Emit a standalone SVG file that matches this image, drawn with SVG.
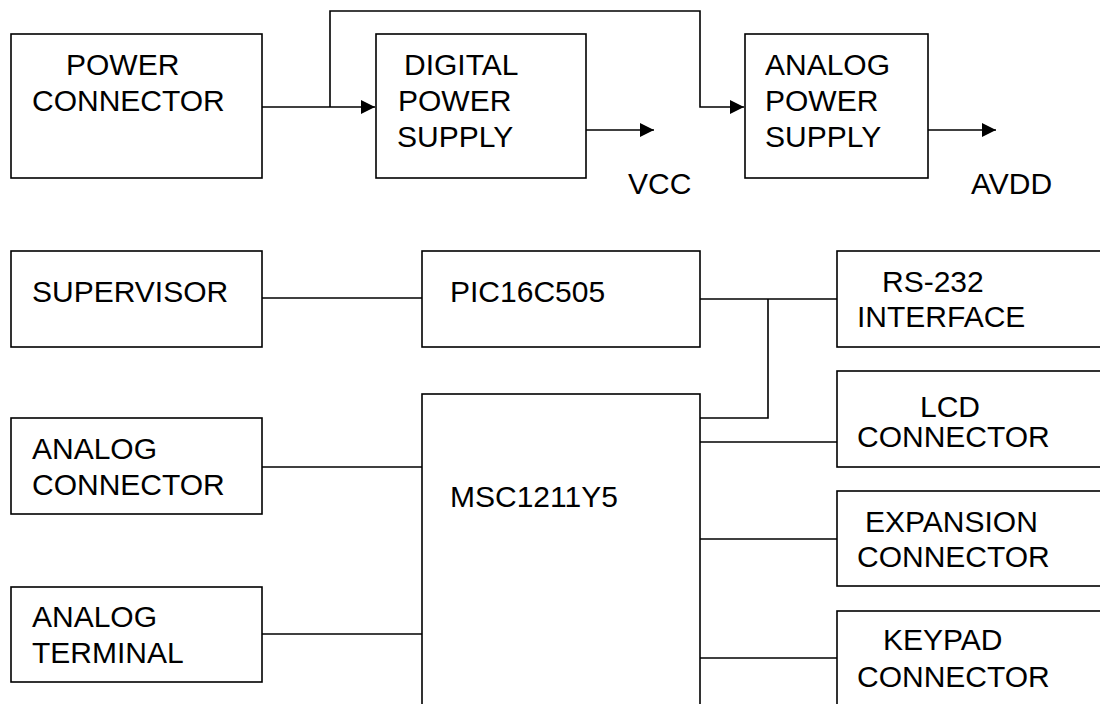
<svg xmlns="http://www.w3.org/2000/svg" width="1100" height="704" viewBox="0 0 1100 704">
<style>
.box{fill:#fff;stroke:#000;stroke-width:1.6}
.ln{fill:none;stroke:#000;stroke-width:1.6}
text{font-family:"Liberation Sans",Arial,sans-serif;font-size:30px;fill:#000}
</style>
<defs>
<marker id="ah" markerUnits="userSpaceOnUse" markerWidth="16" markerHeight="16" viewBox="0 0 16 16" refX="15" refY="8" orient="auto">
<path d="M1,1 L15,8 L1,15 Z" fill="#000"/>
</marker>
</defs>
<rect width="1100" height="704" fill="#fff"/>
<g id="connectors">
<path class="ln" d="M262,107 H375" marker-end="url(#ah)"/>
<path class="ln" d="M330,107 V11 H700 V107 H744" marker-end="url(#ah)"/>
<path class="ln" d="M586,130 H654" marker-end="url(#ah)"/>
<path class="ln" d="M928,130 H996" marker-end="url(#ah)"/>
<path class="ln" d="M262,298 H422"/>
<path class="ln" d="M700,299 H837"/>
<path class="ln" d="M768,299 V418 H700"/>
<path class="ln" d="M700,442 H837"/>
<path class="ln" d="M262,467 H422"/>
<path class="ln" d="M262,634 H422"/>
<path class="ln" d="M700,539 H837"/>
<path class="ln" d="M700,658 H837"/>
</g>
<g id="power-connector">
<rect class="box" x="11" y="34" width="251" height="144"/>
<text x="66" y="75">POWER</text>
<text x="32" y="111">CONNECTOR</text>
</g>
<g id="digital-power-supply">
<rect class="box" x="376" y="34" width="210" height="144"/>
<text x="404" y="75">DIGITAL</text>
<text x="398" y="111">POWER</text>
<text x="397" y="147">SUPPLY</text>
</g>
<g id="analog-power-supply">
<rect class="box" x="745" y="34" width="183" height="144"/>
<text x="765" y="75">ANALOG</text>
<text x="765" y="111">POWER</text>
<text x="765" y="147">SUPPLY</text>
</g>
<g id="vcc"><text x="628" y="194">VCC</text></g>
<g id="avdd"><text x="971" y="194">AVDD</text></g>
<g id="supervisor">
<rect class="box" x="11" y="251" width="251" height="96"/>
<text x="32" y="302">SUPERVISOR</text>
</g>
<g id="pic16c505">
<rect class="box" x="422" y="251" width="278" height="96"/>
<text x="450" y="302">PIC16C505</text>
</g>
<g id="rs232">
<rect class="box" x="837" y="251" width="280" height="96"/>
<text x="882" y="292">RS-232</text>
<text x="857" y="327">INTERFACE</text>
</g>
<g id="lcd-connector">
<rect class="box" x="837" y="371" width="280" height="96"/>
<text x="920" y="417">LCD</text>
<text x="857" y="447">CONNECTOR</text>
</g>
<g id="msc1211y5">
<rect class="box" x="422" y="394" width="278" height="330"/>
<text x="450" y="507">MSC1211Y5</text>
</g>
<g id="analog-connector">
<rect class="box" x="11" y="418" width="251" height="96"/>
<text x="32" y="459">ANALOG</text>
<text x="32" y="495">CONNECTOR</text>
</g>
<g id="analog-terminal">
<rect class="box" x="11" y="587" width="251" height="95"/>
<text x="32" y="627">ANALOG</text>
<text x="32" y="663">TERMINAL</text>
</g>
<g id="expansion-connector">
<rect class="box" x="837" y="491" width="280" height="95"/>
<text x="865" y="532">EXPANSION</text>
<text x="857" y="567">CONNECTOR</text>
</g>
<g id="keypad-connector">
<rect class="box" x="837" y="611" width="280" height="120"/>
<text x="883" y="650">KEYPAD</text>
<text x="857" y="687">CONNECTOR</text>
</g>
</svg>
